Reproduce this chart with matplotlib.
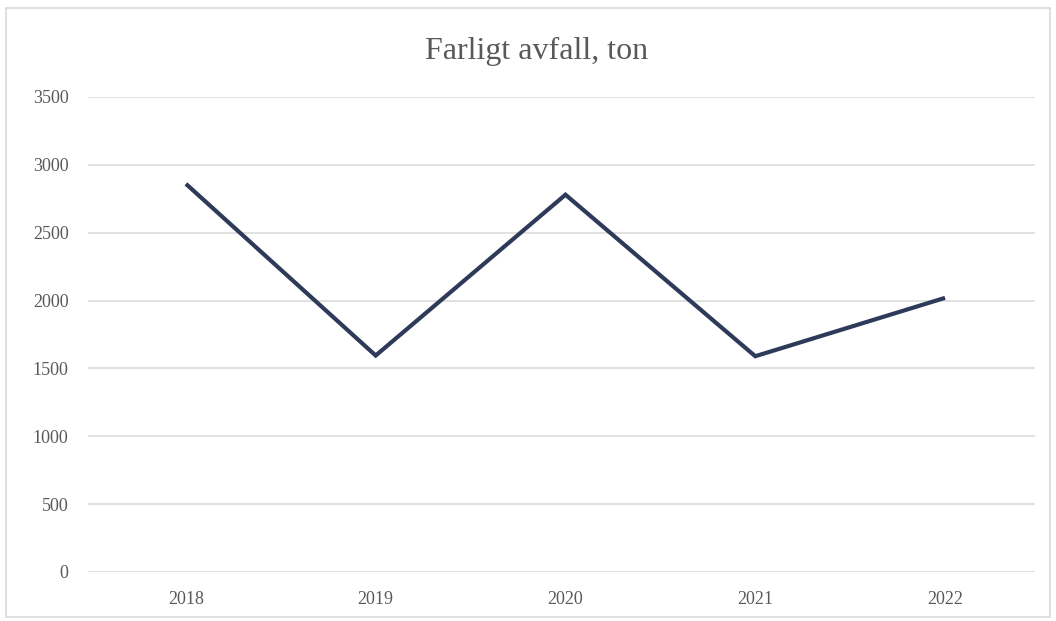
import matplotlib
matplotlib.use("Agg")
import matplotlib.pyplot as plt
from matplotlib.patches import Rectangle

years = ["2018", "2019", "2020", "2021", "2022"]
values = [2860, 1595, 2780, 1590, 2020]
yticks = [0, 500, 1000, 1500, 2000, 2500, 3000, 3500]
title = "Farligt avfall, ton"

W, H = 1056, 621
fig = plt.figure(figsize=(W / 100, H / 100), dpi=100)
fig.patch.set_facecolor("white")
fig.add_artist(Rectangle((6 / W, 1 - 617 / H), (1050 - 6) / W, (617 - 8) / H,
                         transform=fig.transFigure, fill=False,
                         edgecolor="#d9d9d9", linewidth=1.2))

ax = fig.add_axes([88 / W, 1 - 572 / H, (1035 - 88) / W, (572 - 97) / H])
x = list(range(len(years)))
ax.plot(x, values, color="#2e3a59", linewidth=3.0, solid_joinstyle="miter",
        solid_capstyle="butt", zorder=3)
ax.set_xlim(-0.516, len(years) - 1 + 0.474)
ax.set_ylim(0, 3500)
ax.set_yticks(yticks)
ax.set_xticks(x)
ax.set_xticklabels(years)
ax.grid(axis="y", color="#d9d9d9", linewidth=1.1)
ax.set_axisbelow(True)
for s in ax.spines.values():
    s.set_visible(False)
ax.tick_params(length=0, labelsize=13, labelcolor="#595959")
ax.tick_params(axis="y", pad=14)
ax.tick_params(axis="x", pad=14)
for lab in ax.get_xticklabels() + ax.get_yticklabels():
    lab.set_family("Liberation Serif")

fig.text(537 / W, 1 - 59 / H, title, ha="center", va="baseline",
         fontsize=23, color="#595959", family="Liberation Serif")

fig.savefig("out.png", dpi=100)
